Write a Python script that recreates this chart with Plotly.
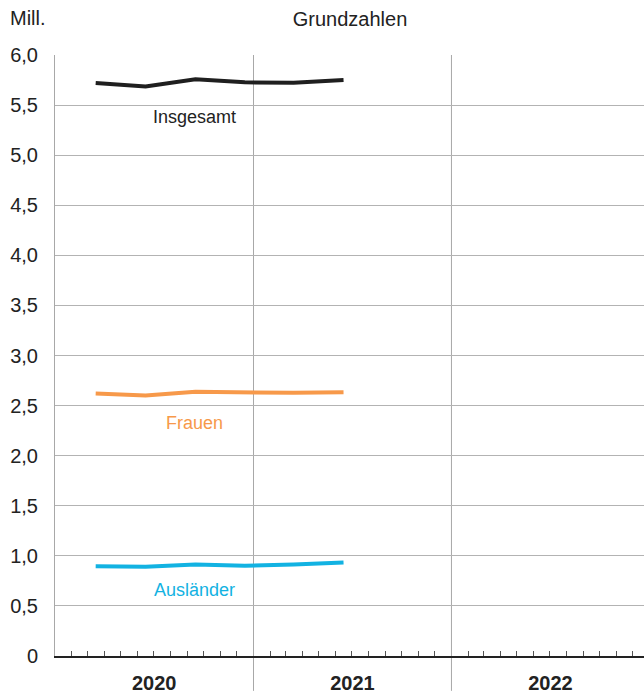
import plotly.graph_objects as go

# Quarterly values (Mill.)
quarters = ["2020-03-16", "2020-06-16", "2020-09-16", "2020-12-16", "2021-03-16", "2021-06-16"]
insgesamt = [5.72, 5.685, 5.757, 5.727, 5.723, 5.75]
frauen = [2.62, 2.60, 2.637, 2.633, 2.627, 2.633]
auslaender = [0.897, 0.89, 0.914, 0.90, 0.914, 0.934]

years = ["2020", "2021", "2022"]
y_ticks = [0, 0.5, 1, 1.5, 2, 2.5, 3, 3.5, 4, 4.5, 5, 5.5, 6]
y_labels = ["0" if v == 0 else f"{v:.1f}".replace(".", ",") for v in y_ticks]

series = [
    ("Insgesamt", insgesamt, "#1f1f1f", 5.38),
    ("Frauen", frauen, "#f7994a", 2.33),
    ("Ausländer", auslaender, "#12b2e2", 0.66),
]

FONT = "Liberation Sans, Arial, sans-serif"

fig = go.Figure()

for name, values, color, label_y in series:
    fig.add_trace(
        go.Scatter(
            x=quarters,
            y=values,
            mode="lines",
            line=dict(color=color, width=4),
            showlegend=False,
            hoverinfo="skip",
        )
    )
    fig.add_annotation(
        x="2020-09-15",
        y=label_y,
        text=name,
        showarrow=False,
        font=dict(size=18, color=color if name != "Insgesamt" else "#222222"),
    )

# year separators, running down through the label row
for yr in years[1:]:
    fig.add_shape(
        type="line",
        xref="x",
        yref="paper",
        x0=f"{yr}-01-01",
        x1=f"{yr}-01-01",
        y0=-0.058,
        y1=1,
        line=dict(color="#a8a8a8", width=1),
        layer="below",
    )

fig.add_annotation(
    xref="paper", yref="paper", x=-55 / 589 + 8 / 589, y=1 + 37 / 601,
    xanchor="left", yanchor="middle",
    text="Mill.", showarrow=False,
    font=dict(size=20, color="#222222"),
)

fig.update_layout(
    width=644,
    height=696,
    margin=dict(l=55, r=0, t=55, b=40),
    plot_bgcolor="white",
    paper_bgcolor="white",
    font=dict(family=FONT, color="#222222"),
    title=dict(
        text="Grundzahlen",
        x=350 / 644,
        xanchor="center",
        y=1 - 19 / 696,
        yanchor="middle",
        font=dict(size=20, color="#222222"),
    ),
)

fig.update_xaxes(
    type="date",
    range=[f"{years[0]}-01-01", "2022-12-22"],
    tick0=f"{years[0]}-01-01",
    dtick="M12",
    ticklabelmode="period",
    tickformat="%Y",
    ticks="",
    showgrid=False,
    showline=True,
    linecolor="#222222",
    linewidth=2,
    tickfont=dict(size=20, color="#222222", family=FONT, weight="bold"),
    ticklabelstandoff=8,
    minor=dict(
        dtick="M1",
        tick0=f"{years[0]}-01-01",
        ticks="inside",
        ticklen=5,
        tickcolor="#555555",
        showgrid=False,
    ),
    automargin=False,
    fixedrange=True,
)

fig.update_yaxes(
    range=[0, 6],
    tickvals=y_ticks,
    ticktext=y_labels,
    showgrid=True,
    gridcolor="#b3b3b3",
    gridwidth=1,
    zeroline=False,
    showline=True,
    linecolor="#a8a8a8",
    linewidth=1,
    ticks="",
    ticklabelstandoff=12,
    tickfont=dict(size=20, color="#222222"),
    automargin=False,
    fixedrange=True,
)

fig.write_html(
    "out.html",
    config={"displayModeBar": False},
    post_script="document.body.style.margin='0';",
)
